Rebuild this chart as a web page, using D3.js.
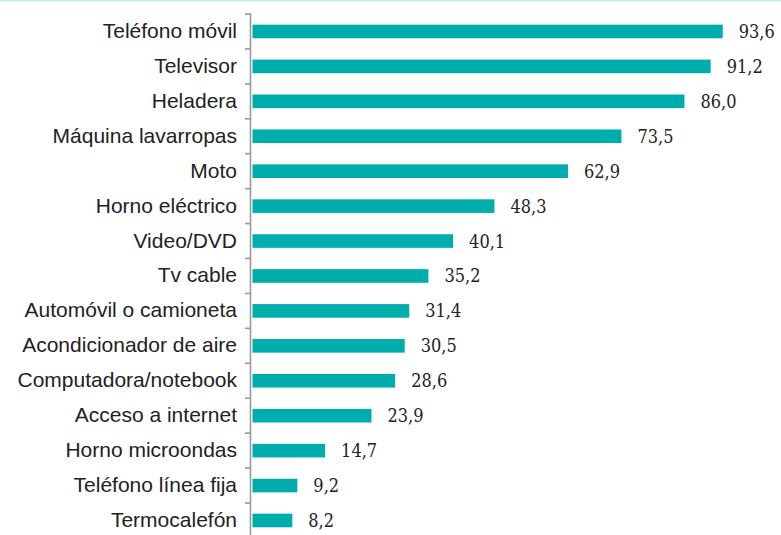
<!DOCTYPE html>
<html lang="es">
<head>
<meta charset="UTF-8">
<title>Equipamiento del hogar</title>
<script src="https://d3js.org/d3.v7.min.js"></script>
<style>
  body, html { margin: 0; padding: 0; background: #fff; }
  svg { display: block; }
  .cat { font-family: 'Liberation Sans', Arial, Helvetica, sans-serif; font-size: 21px; fill: #222; }
  .val { font-family: 'DejaVu Serif Condensed', 'DejaVu Serif', serif; font-stretch: condensed; font-size: 18px; fill: #222; }
</style>
</head>
<body>
<svg id="chart" width="781" height="535"></svg>
<script>
  const categories = [
    'Teléfono móvil', 'Televisor', 'Heladera', 'Máquina lavarropas', 'Moto',
    'Horno eléctrico', 'Video/DVD', 'Tv cable', 'Automóvil o camioneta',
    'Acondicionador de aire', 'Computadora/notebook', 'Acceso a internet',
    'Horno microondas', 'Teléfono línea fija', 'Termocalefón'
  ];
  const values = [93.6, 91.2, 86.0, 73.5, 62.9, 48.3, 40.1, 35.2, 31.4, 30.5, 28.6, 23.9, 14.7, 9.2, 8.2];

  const svg = d3.select('#chart');
  const x0 = 251;
  const plotTop = 14;
  const step = 34.93;

  const x = d3.scaleLinear().domain([0, 100]).range([x0, x0 + 504]);
  const y = d3.scaleBand()
    .domain(categories)
    .range([plotTop, plotTop + step * categories.length])
    .paddingInner(0.61)
    .paddingOuter(0.305);

  // light top rule
  svg.append('line')
    .attr('x1', 0).attr('x2', 781)
    .attr('y1', 0.75).attr('y2', 0.75)
    .attr('stroke', '#c9eded').attr('stroke-width', 1.5);

  // bars
  svg.selectAll('rect.bar')
    .data(values)
    .enter().append('rect')
    .attr('class', 'bar')
    .attr('x', x(0) + 1.5)
    .attr('y', (d, i) => y(categories[i]))
    .attr('width', d => x(d) - x(0) - 1.5)
    .attr('height', y.bandwidth())
    .attr('fill', '#00adad');

  // axis line with ticks on band edges
  const edges = categories.map(c => y(c) - y.step() * y.paddingInner() / 2);
  edges.push(edges[edges.length - 1] + y.step());
  const axis = svg.append('g').attr('stroke', '#9a9a9a').attr('stroke-width', 1.6);
  axis.append('line')
    .attr('x1', x0 - 0.5).attr('x2', x0 - 0.5)
    .attr('y1', edges[0] - 0.8).attr('y2', 535);
  axis.selectAll('line.tick')
    .data(edges)
    .enter().append('line')
    .attr('class', 'tick')
    .attr('x1', x0 - 6).attr('x2', x0 - 0.5)
    .attr('y1', d => d).attr('y2', d => d);

  // category labels
  svg.selectAll('text.cat')
    .data(categories)
    .enter().append('text')
    .attr('class', 'cat')
    .attr('x', 237)
    .attr('y', d => y(d) + y.bandwidth() / 2 + 6.5)
    .attr('text-anchor', 'end')
    .text(d => d);

  // value labels
  svg.selectAll('text.val')
    .data(values)
    .enter().append('text')
    .attr('class', 'val')
    .attr('x', d => x(d) + 16)
    .attr('y', (d, i) => y(categories[i]) + y.bandwidth() / 2 + 6.5)
    .text(d => d.toFixed(1).replace('.', ','));
</script>
</body>
</html>
